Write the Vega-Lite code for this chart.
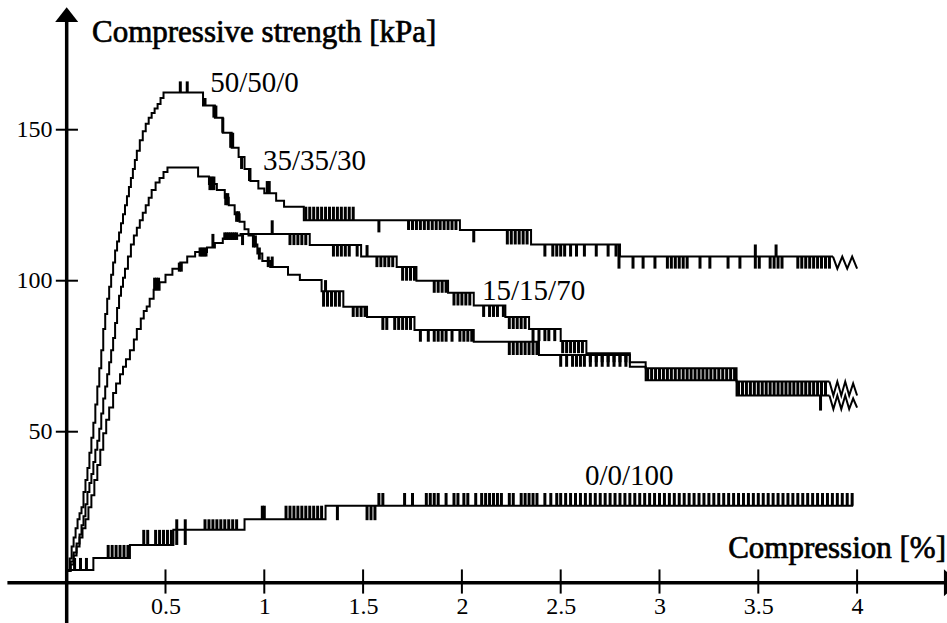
{
"$schema":"https://vega.github.io/schema/vega-lite/v6.json",
"width":947,"height":623,"autosize":{"type":"none"},"padding":0,"background":"white",
"config":{"view":{"stroke":null},"font":"Liberation Serif","axis":{"domain":false,"ticks":false,"tickSize":0,"grid":false,"labelFont":"Liberation Serif","labelFontSize":24,"labelColor":"black","labelFlush":false,"labelOverlap":false}},
"datasets":{
"main":[
{"s":"a","x":0.005,"y":4},{"s":"a","x":0.015,"y":8},{"s":"a","x":0.025,"y":12},{"s":"a","x":0.035,"y":15},{"s":"a","x":0.045,"y":18},{"s":"a","x":0.055,"y":21},{"s":"a","x":0.065,"y":23},{"s":"a","x":0.075,"y":25},{"s":"a","x":0.085,"y":30},{"s":"a","x":0.095,"y":34},{"s":"a","x":0.105,"y":38},{"s":"a","x":0.115,"y":43},{"s":"a","x":0.125,"y":48},{"s":"a","x":0.135,"y":53},{"s":"a","x":0.145,"y":59},{"s":"a","x":0.155,"y":65},{"s":"a","x":0.165,"y":71},{"s":"a","x":0.175,"y":77},{"s":"a","x":0.185,"y":84},{"s":"a","x":0.195,"y":89},{"s":"a","x":0.205,"y":94},{"s":"a","x":0.215,"y":98},{"s":"a","x":0.225,"y":102},{"s":"a","x":0.235,"y":106},{"s":"a","x":0.245,"y":110},{"s":"a","x":0.255,"y":113},{"s":"a","x":0.265,"y":116},{"s":"a","x":0.275,"y":119},{"s":"a","x":0.285,"y":122},{"s":"a","x":0.295,"y":125},{"s":"a","x":0.305,"y":128},{"s":"a","x":0.315,"y":131},{"s":"a","x":0.325,"y":134},{"s":"a","x":0.335,"y":137},{"s":"a","x":0.345,"y":140},{"s":"a","x":0.355,"y":143},{"s":"a","x":0.37,"y":146.5},{"s":"a","x":0.385,"y":149.5},{"s":"a","x":0.4,"y":152},{"s":"a","x":0.415,"y":154},{"s":"a","x":0.43,"y":155.5},{"s":"a","x":0.445,"y":157},{"s":"a","x":0.46,"y":158.5},{"s":"a","x":0.475,"y":160.5},{"s":"a","x":0.49,"y":162.3},{"s":"a","x":0.69,"y":158},{"s":"a","x":0.75,"y":154},{"s":"a","x":0.79,"y":149},{"s":"a","x":0.835,"y":144},{"s":"a","x":0.87,"y":141},{"s":"a","x":0.9,"y":137},{"s":"a","x":0.93,"y":133},{"s":"a","x":0.97,"y":130.5},{"s":"a","x":1.0,"y":129},{"s":"a","x":1.06,"y":126.5},{"s":"a","x":1.1,"y":124.5},{"s":"a","x":1.2,"y":120},{"s":"a","x":1.99,"y":116.8},{"s":"a","x":2.35,"y":112},{"s":"a","x":2.8,"y":108},{"s":"a","x":3.878,"y":108},
{"s":"b","x":0.005,"y":4},{"s":"b","x":0.02,"y":7},{"s":"b","x":0.035,"y":10},{"s":"b","x":0.05,"y":13},{"s":"b","x":0.065,"y":16},{"s":"b","x":0.075,"y":19},{"s":"b","x":0.085,"y":22},{"s":"b","x":0.095,"y":26},{"s":"b","x":0.105,"y":30},{"s":"b","x":0.115,"y":33},{"s":"b","x":0.125,"y":36},{"s":"b","x":0.135,"y":40},{"s":"b","x":0.145,"y":44},{"s":"b","x":0.155,"y":47},{"s":"b","x":0.165,"y":51},{"s":"b","x":0.175,"y":56},{"s":"b","x":0.185,"y":61},{"s":"b","x":0.195,"y":65},{"s":"b","x":0.205,"y":69},{"s":"b","x":0.215,"y":73},{"s":"b","x":0.225,"y":77},{"s":"b","x":0.235,"y":81},{"s":"b","x":0.245,"y":86},{"s":"b","x":0.255,"y":91},{"s":"b","x":0.265,"y":95},{"s":"b","x":0.275,"y":98},{"s":"b","x":0.285,"y":101},{"s":"b","x":0.295,"y":104},{"s":"b","x":0.31,"y":108},{"s":"b","x":0.325,"y":112},{"s":"b","x":0.34,"y":115},{"s":"b","x":0.355,"y":117.5},{"s":"b","x":0.37,"y":120},{"s":"b","x":0.385,"y":122.5},{"s":"b","x":0.4,"y":125},{"s":"b","x":0.415,"y":127.5},{"s":"b","x":0.43,"y":130},{"s":"b","x":0.45,"y":132.5},{"s":"b","x":0.47,"y":134},{"s":"b","x":0.49,"y":136},{"s":"b","x":0.51,"y":137.5},{"s":"b","x":0.665,"y":134.5},{"s":"b","x":0.72,"y":132},{"s":"b","x":0.76,"y":130},{"s":"b","x":0.8,"y":127.5},{"s":"b","x":0.82,"y":125},{"s":"b","x":0.85,"y":122},{"s":"b","x":0.875,"y":119.5},{"s":"b","x":0.9,"y":117},{"s":"b","x":0.92,"y":115},{"s":"b","x":0.945,"y":112},{"s":"b","x":0.965,"y":109},{"s":"b","x":0.99,"y":106.5},{"s":"b","x":1.03,"y":104.5},{"s":"b","x":1.12,"y":102},{"s":"b","x":1.18,"y":100.2},{"s":"b","x":1.29,"y":96.5},{"s":"b","x":1.4,"y":91.4},{"s":"b","x":1.52,"y":88},{"s":"b","x":1.76,"y":83.7},{"s":"b","x":2.06,"y":79.8},{"s":"b","x":2.39,"y":75.4},{"s":"b","x":2.85,"y":71.5},{"s":"b","x":2.93,"y":67},{"s":"b","x":3.39,"y":62},{"s":"b","x":3.86,"y":62},
{"s":"c","x":0.005,"y":4},{"s":"c","x":0.02,"y":6},{"s":"c","x":0.035,"y":9},{"s":"c","x":0.05,"y":12},{"s":"c","x":0.065,"y":15},{"s":"c","x":0.08,"y":18},{"s":"c","x":0.095,"y":21},{"s":"c","x":0.11,"y":25},{"s":"c","x":0.125,"y":29},{"s":"c","x":0.14,"y":34},{"s":"c","x":0.155,"y":39},{"s":"c","x":0.17,"y":44},{"s":"c","x":0.185,"y":49.5},{"s":"c","x":0.2,"y":54},{"s":"c","x":0.215,"y":58},{"s":"c","x":0.235,"y":62.8},{"s":"c","x":0.25,"y":66},{"s":"c","x":0.27,"y":69},{"s":"c","x":0.285,"y":71.5},{"s":"c","x":0.3,"y":74},{"s":"c","x":0.32,"y":77},{"s":"c","x":0.34,"y":80.5},{"s":"c","x":0.355,"y":84},{"s":"c","x":0.375,"y":87.5},{"s":"c","x":0.39,"y":90},{"s":"c","x":0.405,"y":91.5},{"s":"c","x":0.42,"y":94},{"s":"c","x":0.44,"y":97},{"s":"c","x":0.47,"y":99.5},{"s":"c","x":0.5,"y":102},{"s":"c","x":0.535,"y":104},{"s":"c","x":0.575,"y":106},{"s":"c","x":0.61,"y":108},{"s":"c","x":0.65,"y":109.5},{"s":"c","x":0.71,"y":111},{"s":"c","x":0.75,"y":112.5},{"s":"c","x":0.79,"y":114},{"s":"c","x":0.85,"y":115},{"s":"c","x":0.88,"y":115.5},{"s":"c","x":1.23,"y":111.8},{"s":"c","x":1.49,"y":108},{"s":"c","x":1.67,"y":104.5},{"s":"c","x":1.77,"y":100},{"s":"c","x":1.93,"y":96},{"s":"c","x":2.06,"y":91.8},{"s":"c","x":2.22,"y":88},{"s":"c","x":2.34,"y":84},{"s":"c","x":2.5,"y":80},{"s":"c","x":2.63,"y":76},{"s":"c","x":2.85,"y":73},{"s":"c","x":2.93,"y":71},{"s":"c","x":3.39,"y":66.6},{"s":"c","x":3.86,"y":66.6},
{"s":"d","x":0.005,"y":4.2},{"s":"d","x":0.135,"y":8.2},{"s":"d","x":0.32,"y":12.5},{"s":"d","x":0.54,"y":17.5},{"s":"d","x":0.9,"y":21},{"s":"d","x":1.31,"y":25.5},{"s":"d","x":3.98,"y":25.5}
],
"zig":[
{"s":"a","x":3.878,"y":108},{"s":"a","x":3.9,"y":104},{"s":"a","x":3.925,"y":108},{"s":"a","x":3.95,"y":104},{"s":"a","x":3.975,"y":108},{"s":"a","x":4.0,"y":104},
{"s":"c","x":3.86,"y":66.6},{"s":"c","x":3.88,"y":62},{"s":"c","x":3.9,"y":66.6},{"s":"c","x":3.92,"y":62},{"s":"c","x":3.94,"y":66.6},{"s":"c","x":3.96,"y":62},{"s":"c","x":3.98,"y":66},{"s":"c","x":4.0,"y":62},
{"s":"b","x":3.86,"y":62},{"s":"b","x":3.88,"y":57.5},{"s":"b","x":3.9,"y":62},{"s":"b","x":3.92,"y":57.5},{"s":"b","x":3.94,"y":62},{"s":"b","x":3.96,"y":57.5},{"s":"b","x":3.98,"y":61},{"s":"b","x":4.0,"y":58}
],
"noise":[
{"x":0.575,"y":162.3,"y2":166},{"x":0.61,"y":162.3,"y2":166},
{"x":0.7,"y":158,"y2":160.5},{"x":0.745,"y":154,"y2":158},{"x":0.755,"y":154,"y2":158},{"x":0.79,"y":149,"y2":154},{"x":0.83,"y":144,"y2":149},{"x":0.84,"y":144,"y2":149},{"x":0.885,"y":137,"y2":141},{"x":0.925,"y":133,"y2":137},{"x":1.015,"y":129,"y2":133},{"x":1.025,"y":129,"y2":133},
{"x":1.21,"y":120,"y2":124.5},{"x":1.23,"y":120,"y2":124.5},{"x":1.25,"y":120,"y2":124.5},{"x":1.27,"y":120,"y2":124.5},{"x":1.29,"y":120,"y2":124.5},{"x":1.31,"y":120,"y2":124.5},{"x":1.33,"y":120,"y2":124.5},{"x":1.35,"y":120,"y2":124.5},{"x":1.37,"y":120,"y2":124.5},{"x":1.39,"y":120,"y2":124.5},{"x":1.41,"y":120,"y2":124.5},{"x":1.43,"y":120,"y2":124.5},{"x":1.45,"y":120,"y2":124.5},
{"x":1.58,"y":116,"y2":120},
{"x":1.73,"y":116.8,"y2":120},{"x":1.75,"y":116.8,"y2":120},{"x":1.77,"y":116.8,"y2":120},{"x":1.79,"y":116.8,"y2":120},{"x":1.81,"y":116.8,"y2":120},{"x":1.83,"y":116.8,"y2":120},{"x":1.85,"y":116.8,"y2":120},{"x":1.87,"y":116.8,"y2":120},{"x":1.89,"y":116.8,"y2":120},{"x":1.91,"y":116.8,"y2":120},{"x":1.93,"y":116.8,"y2":120},{"x":1.95,"y":116.8,"y2":120},{"x":1.97,"y":116.8,"y2":120},
{"x":2.06,"y":112.7,"y2":116.8},
{"x":2.23,"y":112,"y2":116.8},{"x":2.25,"y":112,"y2":116.8},{"x":2.27,"y":112,"y2":116.8},{"x":2.29,"y":112,"y2":116.8},{"x":2.31,"y":112,"y2":116.8},{"x":2.33,"y":112,"y2":116.8},
{"x":2.42,"y":108,"y2":112},{"x":2.46,"y":108,"y2":112},{"x":2.48,"y":108,"y2":112},{"x":2.5,"y":108,"y2":112},{"x":2.52,"y":108,"y2":112},{"x":2.55,"y":108,"y2":112},{"x":2.58,"y":108,"y2":112},{"x":2.62,"y":108,"y2":112},{"x":2.68,"y":108,"y2":112},{"x":2.74,"y":108,"y2":112},{"x":2.78,"y":108,"y2":112},
{"x":2.795,"y":104,"y2":112},
{"x":2.866,"y":104,"y2":108},{"x":2.917,"y":104,"y2":108},{"x":2.977,"y":104,"y2":108},{"x":3.04,"y":104,"y2":108},{"x":3.06,"y":104,"y2":108},{"x":3.08,"y":104,"y2":108},{"x":3.1,"y":104,"y2":108},{"x":3.12,"y":104,"y2":108},{"x":3.14,"y":104,"y2":108},{"x":3.205,"y":104,"y2":108},{"x":3.255,"y":104,"y2":108},{"x":3.347,"y":104,"y2":108},{"x":3.407,"y":104,"y2":108},{"x":3.485,"y":104,"y2":112},{"x":3.505,"y":104,"y2":108},{"x":3.56,"y":104,"y2":108},{"x":3.58,"y":104,"y2":108},{"x":3.59,"y":108,"y2":112},{"x":3.6,"y":104,"y2":108},{"x":3.62,"y":104,"y2":108},{"x":3.7,"y":104,"y2":108},{"x":3.72,"y":104,"y2":108},{"x":3.74,"y":104,"y2":108},{"x":3.76,"y":104,"y2":108},{"x":3.78,"y":104,"y2":108},{"x":3.8,"y":104,"y2":108},{"x":3.82,"y":104,"y2":108},{"x":3.84,"y":104,"y2":108},{"x":3.86,"y":104,"y2":108},
{"x":0.725,"y":130,"y2":134.5},{"x":0.735,"y":130,"y2":134.5},{"x":0.745,"y":130,"y2":134.5},{"x":0.805,"y":125,"y2":129},{"x":0.815,"y":125,"y2":129},{"x":0.86,"y":119.5,"y2":123},{"x":0.87,"y":119.5,"y2":123},{"x":0.945,"y":111,"y2":115},{"x":0.955,"y":111,"y2":115},{"x":0.975,"y":107,"y2":111},{"x":1.02,"y":104.5,"y2":108},{"x":1.04,"y":104.5,"y2":108},
{"x":1.31,"y":96.5,"y2":100.2},{"x":1.3,"y":91.4,"y2":96.5},{"x":1.32,"y":91.4,"y2":96.5},{"x":1.34,"y":91.4,"y2":96.5},{"x":1.36,"y":91.4,"y2":96.5},{"x":1.38,"y":91.4,"y2":96.5},
{"x":1.45,"y":88,"y2":91.4},{"x":1.47,"y":88,"y2":91.4},{"x":1.49,"y":88,"y2":91.4},{"x":1.51,"y":88,"y2":91.4},
{"x":1.6,"y":83.7,"y2":88},{"x":1.62,"y":83.7,"y2":88},{"x":1.66,"y":83.7,"y2":88},{"x":1.68,"y":83.7,"y2":88},{"x":1.7,"y":83.7,"y2":88},{"x":1.72,"y":83.7,"y2":88},{"x":1.74,"y":83.7,"y2":88},
{"x":1.79,"y":79.8,"y2":83.7},{"x":1.83,"y":79.8,"y2":83.7},{"x":1.86,"y":79.8,"y2":83.7},{"x":1.88,"y":79.8,"y2":83.7},{"x":1.9,"y":79.8,"y2":83.7},{"x":1.92,"y":79.8,"y2":83.7},{"x":1.95,"y":79.8,"y2":83.7},{"x":1.99,"y":79.8,"y2":83.7},{"x":2.01,"y":79.8,"y2":83.7},{"x":2.03,"y":79.8,"y2":83.7},{"x":2.05,"y":79.8,"y2":83.7},
{"x":2.24,"y":75.4,"y2":79.8},{"x":2.26,"y":75.4,"y2":79.8},{"x":2.28,"y":75.4,"y2":79.8},{"x":2.3,"y":75.4,"y2":79.8},{"x":2.32,"y":75.4,"y2":79.8},{"x":2.34,"y":75.4,"y2":79.8},{"x":2.36,"y":75.4,"y2":79.8},{"x":2.38,"y":75.4,"y2":79.8},
{"x":2.5,"y":71.5,"y2":75.4},{"x":2.53,"y":71.5,"y2":75.4},{"x":2.56,"y":71.5,"y2":75.4},{"x":2.58,"y":71.5,"y2":75.4},{"x":2.6,"y":71.5,"y2":75.4},{"x":2.62,"y":71.5,"y2":75.4},{"x":2.65,"y":71.5,"y2":75.4},{"x":2.68,"y":71.5,"y2":75.4},{"x":2.71,"y":71.5,"y2":75.4},{"x":2.74,"y":71.5,"y2":75.4},{"x":2.77,"y":71.5,"y2":75.4},{"x":2.8,"y":71.5,"y2":75.4},{"x":2.83,"y":71.5,"y2":75.4},
{"x":2.94,"y":67,"y2":71},{"x":2.96,"y":67,"y2":71},{"x":2.98,"y":67,"y2":71},{"x":3.0,"y":67,"y2":71},{"x":3.02,"y":67,"y2":71},{"x":3.04,"y":67,"y2":71},{"x":3.06,"y":67,"y2":71},{"x":3.08,"y":67,"y2":71},{"x":3.1,"y":67,"y2":71},{"x":3.12,"y":67,"y2":71},{"x":3.14,"y":67,"y2":71},{"x":3.16,"y":67,"y2":71},{"x":3.18,"y":67,"y2":71},{"x":3.2,"y":67,"y2":71},{"x":3.22,"y":67,"y2":71},{"x":3.24,"y":67,"y2":71},{"x":3.26,"y":67,"y2":71},{"x":3.28,"y":67,"y2":71},{"x":3.3,"y":67,"y2":71},{"x":3.32,"y":67,"y2":71},{"x":3.34,"y":67,"y2":71},{"x":3.36,"y":67,"y2":71},{"x":3.38,"y":67,"y2":71},
{"x":3.4,"y":62,"y2":66.6},{"x":3.42,"y":62,"y2":66.6},{"x":3.44,"y":62,"y2":66.6},{"x":3.46,"y":62,"y2":66.6},{"x":3.48,"y":62,"y2":66.6},{"x":3.5,"y":62,"y2":66.6},{"x":3.52,"y":62,"y2":66.6},{"x":3.54,"y":62,"y2":66.6},{"x":3.56,"y":62,"y2":66.6},{"x":3.58,"y":62,"y2":66.6},{"x":3.6,"y":62,"y2":66.6},{"x":3.62,"y":62,"y2":66.6},{"x":3.64,"y":62,"y2":66.6},{"x":3.66,"y":62,"y2":66.6},{"x":3.68,"y":62,"y2":66.6},{"x":3.7,"y":62,"y2":66.6},{"x":3.72,"y":62,"y2":66.6},{"x":3.74,"y":62,"y2":66.6},{"x":3.76,"y":62,"y2":66.6},{"x":3.78,"y":62,"y2":66.6},{"x":3.8,"y":62,"y2":66.6},{"x":3.82,"y":62,"y2":66.6},{"x":3.84,"y":62,"y2":66.6},
{"x":3.815,"y":57,"y2":62},
{"x":0.445,"y":97,"y2":101},{"x":0.455,"y":97,"y2":101},{"x":0.465,"y":97,"y2":101},{"x":0.57,"y":103,"y2":106},{"x":0.58,"y":103,"y2":106},{"x":0.675,"y":108,"y2":111},{"x":0.685,"y":108,"y2":111},{"x":0.695,"y":108,"y2":111},{"x":0.705,"y":108,"y2":111},{"x":0.74,"y":111,"y2":115.5},
{"x":0.8,"y":113.5,"y2":116},{"x":0.81,"y":113.5,"y2":116},{"x":0.82,"y":113.5,"y2":116},{"x":0.83,"y":113.5,"y2":116},{"x":0.84,"y":113.5,"y2":116},{"x":0.85,"y":113.5,"y2":116},{"x":0.86,"y":113.5,"y2":116},
{"x":0.89,"y":111.8,"y2":115.5},{"x":1.04,"y":115.5,"y2":120},
{"x":1.13,"y":111.8,"y2":115.5},{"x":1.15,"y":111.8,"y2":115.5},{"x":1.17,"y":111.8,"y2":115.5},{"x":1.19,"y":111.8,"y2":115.5},{"x":1.21,"y":111.8,"y2":115.5},
{"x":1.35,"y":108,"y2":111.8},{"x":1.37,"y":108,"y2":111.8},{"x":1.39,"y":108,"y2":111.8},{"x":1.41,"y":108,"y2":111.8},{"x":1.43,"y":108,"y2":111.8},{"x":1.47,"y":108,"y2":111.8},{"x":1.52,"y":108,"y2":111.8},
{"x":1.57,"y":104.5,"y2":108},{"x":1.59,"y":104.5,"y2":108},{"x":1.61,"y":104.5,"y2":108},{"x":1.63,"y":104.5,"y2":108},{"x":1.65,"y":104.5,"y2":108},
{"x":1.7,"y":100,"y2":104.5},{"x":1.72,"y":100,"y2":104.5},{"x":1.74,"y":100,"y2":104.5},{"x":1.76,"y":100,"y2":104.5},
{"x":1.86,"y":96,"y2":100},{"x":1.88,"y":96,"y2":100},{"x":1.9,"y":96,"y2":100},{"x":1.92,"y":96,"y2":100},
{"x":1.96,"y":91.8,"y2":96},{"x":1.98,"y":91.8,"y2":96},{"x":2.0,"y":91.8,"y2":96},{"x":2.02,"y":91.8,"y2":96},{"x":2.04,"y":91.8,"y2":96},
{"x":2.11,"y":88,"y2":91.8},{"x":2.14,"y":88,"y2":91.8},{"x":2.16,"y":88,"y2":91.8},{"x":2.18,"y":88,"y2":91.8},{"x":2.21,"y":88,"y2":91.8},
{"x":2.24,"y":84,"y2":88},{"x":2.26,"y":84,"y2":88},{"x":2.28,"y":84,"y2":88},{"x":2.3,"y":84,"y2":88},{"x":2.32,"y":84,"y2":88},
{"x":2.36,"y":80,"y2":84},{"x":2.39,"y":80,"y2":84},{"x":2.42,"y":80,"y2":84},{"x":2.44,"y":80,"y2":84},{"x":2.47,"y":80,"y2":84},
{"x":2.51,"y":76,"y2":80},{"x":2.53,"y":76,"y2":80},{"x":2.55,"y":76,"y2":80},{"x":2.57,"y":76,"y2":80},{"x":2.59,"y":76,"y2":80},{"x":2.61,"y":76,"y2":80},
{"x":2.65,"y":73,"y2":76},{"x":2.68,"y":73,"y2":76},{"x":2.71,"y":73,"y2":76},{"x":2.74,"y":73,"y2":76},{"x":2.77,"y":73,"y2":76},{"x":2.8,"y":73,"y2":76},{"x":2.83,"y":73,"y2":76},
{"x":0.04,"y":4.2,"y2":8.2},{"x":0.07,"y":4.2,"y2":8.2},{"x":0.1,"y":4.2,"y2":8.2},
{"x":0.21,"y":8.2,"y2":12.5},{"x":0.23,"y":8.2,"y2":12.5},{"x":0.25,"y":8.2,"y2":12.5},{"x":0.27,"y":8.2,"y2":12.5},{"x":0.29,"y":8.2,"y2":12.5},{"x":0.31,"y":8.2,"y2":12.5},
{"x":0.39,"y":12.5,"y2":17.5},{"x":0.41,"y":12.5,"y2":17.5},{"x":0.45,"y":12.5,"y2":17.5},{"x":0.47,"y":12.5,"y2":17.5},{"x":0.49,"y":12.5,"y2":17.5},{"x":0.51,"y":12.5,"y2":17.5},{"x":0.53,"y":12.5,"y2":17.5},
{"x":0.557,"y":12.5,"y2":21},{"x":0.6,"y":12.5,"y2":21},
{"x":0.7,"y":17.5,"y2":21},{"x":0.72,"y":17.5,"y2":21},{"x":0.74,"y":17.5,"y2":21},{"x":0.76,"y":17.5,"y2":21},{"x":0.78,"y":17.5,"y2":21},{"x":0.8,"y":17.5,"y2":21},{"x":0.82,"y":17.5,"y2":21},{"x":0.84,"y":17.5,"y2":21},{"x":0.86,"y":17.5,"y2":21},
{"x":0.99,"y":21,"y2":25.5},{"x":1.0,"y":21,"y2":25.5},{"x":1.11,"y":21,"y2":25.5},{"x":1.13,"y":21,"y2":25.5},{"x":1.15,"y":21,"y2":25.5},{"x":1.17,"y":21,"y2":25.5},{"x":1.19,"y":21,"y2":25.5},{"x":1.21,"y":21,"y2":25.5},{"x":1.23,"y":21,"y2":25.5},{"x":1.25,"y":21,"y2":25.5},{"x":1.27,"y":21,"y2":25.5},{"x":1.29,"y":21,"y2":25.5},
{"x":1.37,"y":20.7,"y2":25.5},{"x":1.52,"y":20.7,"y2":25.5},{"x":1.54,"y":20.7,"y2":25.5},{"x":1.56,"y":20.7,"y2":25.5},
{"x":1.58,"y":25.5,"y2":29.7},{"x":1.6,"y":25.5,"y2":29.7},{"x":1.71,"y":25.5,"y2":29.7},{"x":1.75,"y":25.5,"y2":29.7},{"x":1.82,"y":25.5,"y2":29.7},{"x":1.84,"y":25.5,"y2":29.7},{"x":1.86,"y":25.5,"y2":29.7},{"x":1.88,"y":25.5,"y2":29.7},{"x":1.92,"y":25.5,"y2":29.7},{"x":1.96,"y":25.5,"y2":29.7},{"x":1.98,"y":25.5,"y2":29.7},{"x":2.01,"y":25.5,"y2":29.7},{"x":2.03,"y":25.5,"y2":29.7},{"x":2.07,"y":25.5,"y2":29.7},{"x":2.1,"y":25.5,"y2":29.7},{"x":2.12,"y":25.5,"y2":29.7},{"x":2.14,"y":25.5,"y2":29.7},{"x":2.16,"y":25.5,"y2":29.7},{"x":2.18,"y":25.5,"y2":29.7},{"x":2.2,"y":25.5,"y2":29.7},{"x":2.24,"y":25.5,"y2":29.7},{"x":2.26,"y":25.5,"y2":29.7},{"x":2.3,"y":25.5,"y2":29.7},{"x":2.32,"y":25.5,"y2":29.7},{"x":2.34,"y":25.5,"y2":29.7},{"x":2.36,"y":25.5,"y2":29.7},{"x":2.38,"y":25.5,"y2":29.7},{"x":2.42,"y":25.5,"y2":29.7},{"x":2.45,"y":25.5,"y2":29.7},{"x":2.48,"y":25.5,"y2":29.7},
{"x":2.5,"y":25.5,"y2":29.7},{"x":2.525,"y":25.5,"y2":29.7},{"x":2.55,"y":25.5,"y2":29.7},{"x":2.575,"y":25.5,"y2":29.7},{"x":2.6,"y":25.5,"y2":29.7},{"x":2.625,"y":25.5,"y2":29.7},{"x":2.65,"y":25.5,"y2":29.7},{"x":2.675,"y":25.5,"y2":29.7},{"x":2.7,"y":25.5,"y2":29.7},{"x":2.725,"y":25.5,"y2":29.7},{"x":2.75,"y":25.5,"y2":29.7},{"x":2.775,"y":25.5,"y2":29.7},{"x":2.8,"y":25.5,"y2":29.7},{"x":2.825,"y":25.5,"y2":29.7},{"x":2.85,"y":25.5,"y2":29.7},{"x":2.875,"y":25.5,"y2":29.7},{"x":2.9,"y":25.5,"y2":29.7},{"x":2.925,"y":25.5,"y2":29.7},{"x":2.95,"y":25.5,"y2":29.7},{"x":2.975,"y":25.5,"y2":29.7},{"x":3.0,"y":25.5,"y2":29.7},{"x":3.025,"y":25.5,"y2":29.7},{"x":3.05,"y":25.5,"y2":29.7},{"x":3.075,"y":25.5,"y2":29.7},{"x":3.1,"y":25.5,"y2":29.7},{"x":3.125,"y":25.5,"y2":29.7},{"x":3.15,"y":25.5,"y2":29.7},{"x":3.175,"y":25.5,"y2":29.7},{"x":3.2,"y":25.5,"y2":29.7},{"x":3.225,"y":25.5,"y2":29.7},{"x":3.25,"y":25.5,"y2":29.7},{"x":3.275,"y":25.5,"y2":29.7},{"x":3.3,"y":25.5,"y2":29.7},{"x":3.325,"y":25.5,"y2":29.7},{"x":3.35,"y":25.5,"y2":29.7},{"x":3.375,"y":25.5,"y2":29.7},{"x":3.4,"y":25.5,"y2":29.7},{"x":3.425,"y":25.5,"y2":29.7},{"x":3.45,"y":25.5,"y2":29.7},{"x":3.475,"y":25.5,"y2":29.7},{"x":3.5,"y":25.5,"y2":29.7},{"x":3.525,"y":25.5,"y2":29.7},{"x":3.55,"y":25.5,"y2":29.7},{"x":3.575,"y":25.5,"y2":29.7},{"x":3.6,"y":25.5,"y2":29.7},{"x":3.625,"y":25.5,"y2":29.7},{"x":3.65,"y":25.5,"y2":29.7},{"x":3.675,"y":25.5,"y2":29.7},{"x":3.7,"y":25.5,"y2":29.7},{"x":3.725,"y":25.5,"y2":29.7},{"x":3.75,"y":25.5,"y2":29.7},{"x":3.775,"y":25.5,"y2":29.7},{"x":3.8,"y":25.5,"y2":29.7},{"x":3.825,"y":25.5,"y2":29.7},{"x":3.85,"y":25.5,"y2":29.7},{"x":3.875,"y":25.5,"y2":29.7},{"x":3.9,"y":25.5,"y2":29.7},{"x":3.925,"y":25.5,"y2":29.7},{"x":3.95,"y":25.5,"y2":29.7},{"x":3.975,"y":25.5,"y2":29.7}
],
"labels":[
{"t":"50/50/0","x":0.726,"y":162.4},{"t":"35/35/30","x":0.993,"y":136.7},{"t":"15/15/70","x":2.102,"y":93.6},{"t":"0/0/100","x":2.623,"y":32.35}
],
"xticks":[{"v":0.5},{"v":1},{"v":1.5},{"v":2},{"v":2.5},{"v":3},{"v":3.5},{"v":4}],
"yticks":[{"v":50},{"v":100},{"v":150}],
"one":[{}]
},
"layer":[
{"data":{"name":"main"},"mark":{"type":"line","interpolate":"step-after","color":"black","strokeWidth":2},
 "encoding":{
  "x":{"field":"x","type":"quantitative","title":null,"scale":{"domain":[-0.3375,4.455],"nice":false,"zero":false},
       "axis":{"orient":"bottom","offset":-40.3,"values":[0.5,1,1.5,2,2.5,3,3.5,4],"format":"~g","labelPadding":12}},
  "y":{"field":"y","type":"quantitative","title":null,"scale":{"domain":[-13.34,192.95],"nice":false,"zero":false},
       "axis":{"orient":"left","offset":-66.7,"values":[50,100,150],"labelPadding":14.7}},
  "detail":{"field":"s"}}},
{"data":{"name":"zig"},"mark":{"type":"line","interpolate":"linear","color":"black","strokeWidth":2},
 "encoding":{
  "x":{"field":"x","type":"quantitative","title":null},
  "y":{"field":"y","type":"quantitative","title":null},
  "detail":{"field":"s"}}},
{"data":{"name":"noise"},"mark":{"type":"rule","color":"black","strokeWidth":3},
 "encoding":{
  "x":{"field":"x","type":"quantitative","title":null},
  "y":{"field":"y","type":"quantitative","title":null},
  "y2":{"field":"y2"}}},
{"data":{"name":"one"},"mark":{"type":"rule","color":"black","strokeWidth":3.5},
 "encoding":{
  "x":{"datum":0,"type":"quantitative","title":null},
  "y":{"datum":-14,"type":"quantitative","title":null},
  "y2":{"datum":186}}},
{"data":{"name":"one"},"mark":{"type":"rule","color":"black","strokeWidth":3.5},
 "encoding":{
  "x":{"datum":-0.3,"type":"quantitative","title":null},
  "x2":{"datum":4.46},
  "y":{"datum":0,"type":"quantitative","title":null}}},
{"data":{"name":"xticks"},"mark":{"type":"rule","color":"black","strokeWidth":2},
 "encoding":{
  "x":{"field":"v","type":"quantitative","title":null},
  "y":{"datum":-3.6,"type":"quantitative","title":null},
  "y2":{"datum":4.4}}},
{"data":{"name":"yticks"},"mark":{"type":"rule","color":"black","strokeWidth":2},
 "encoding":{
  "y":{"field":"v","type":"quantitative","title":null},
  "x":{"datum":-0.055,"type":"quantitative","title":null},
  "x2":{"datum":0.057}}},
{"data":{"name":"one"},"mark":{"type":"point","shape":"M-1,0.65L1,0.65L0,-0.65Z","size":529,"filled":true,"color":"black","opacity":1},
 "encoding":{
  "x":{"datum":0,"type":"quantitative","title":null},
  "y":{"datum":188.1,"type":"quantitative","title":null}}},
{"data":{"name":"one"},"mark":{"type":"point","shape":"M-0.55,-1L0.55,0L-0.55,1Z","size":729,"filled":true,"color":"black","opacity":1},
 "encoding":{
  "x":{"datum":4.477,"type":"quantitative","title":null},
  "y":{"datum":0,"type":"quantitative","title":null}}},
{"data":{"name":"one"},"mark":{"type":"text","text":"Compressive strength [kPa]","font":"Liberation Serif","fontSize":31,"align":"left","baseline":"alphabetic","color":"black","stroke":"black","strokeWidth":0.7},
 "encoding":{
  "x":{"datum":0.128,"type":"quantitative","title":null},
  "y":{"datum":179.0,"type":"quantitative","title":null}}},
{"data":{"name":"one"},"mark":{"type":"text","text":"Compression [%]","font":"Liberation Serif","fontSize":31,"align":"right","baseline":"alphabetic","color":"black","stroke":"black","strokeWidth":0.7},
 "encoding":{
  "x":{"datum":4.45,"type":"quantitative","title":null},
  "y":{"datum":8.18,"type":"quantitative","title":null}}},
{"data":{"name":"labels"},"mark":{"type":"text","font":"Liberation Serif","fontSize":29,"align":"left","baseline":"alphabetic","color":"black"},
 "encoding":{
  "x":{"field":"x","type":"quantitative","title":null},
  "y":{"field":"y","type":"quantitative","title":null},
  "text":{"field":"t"}}}
]
}
